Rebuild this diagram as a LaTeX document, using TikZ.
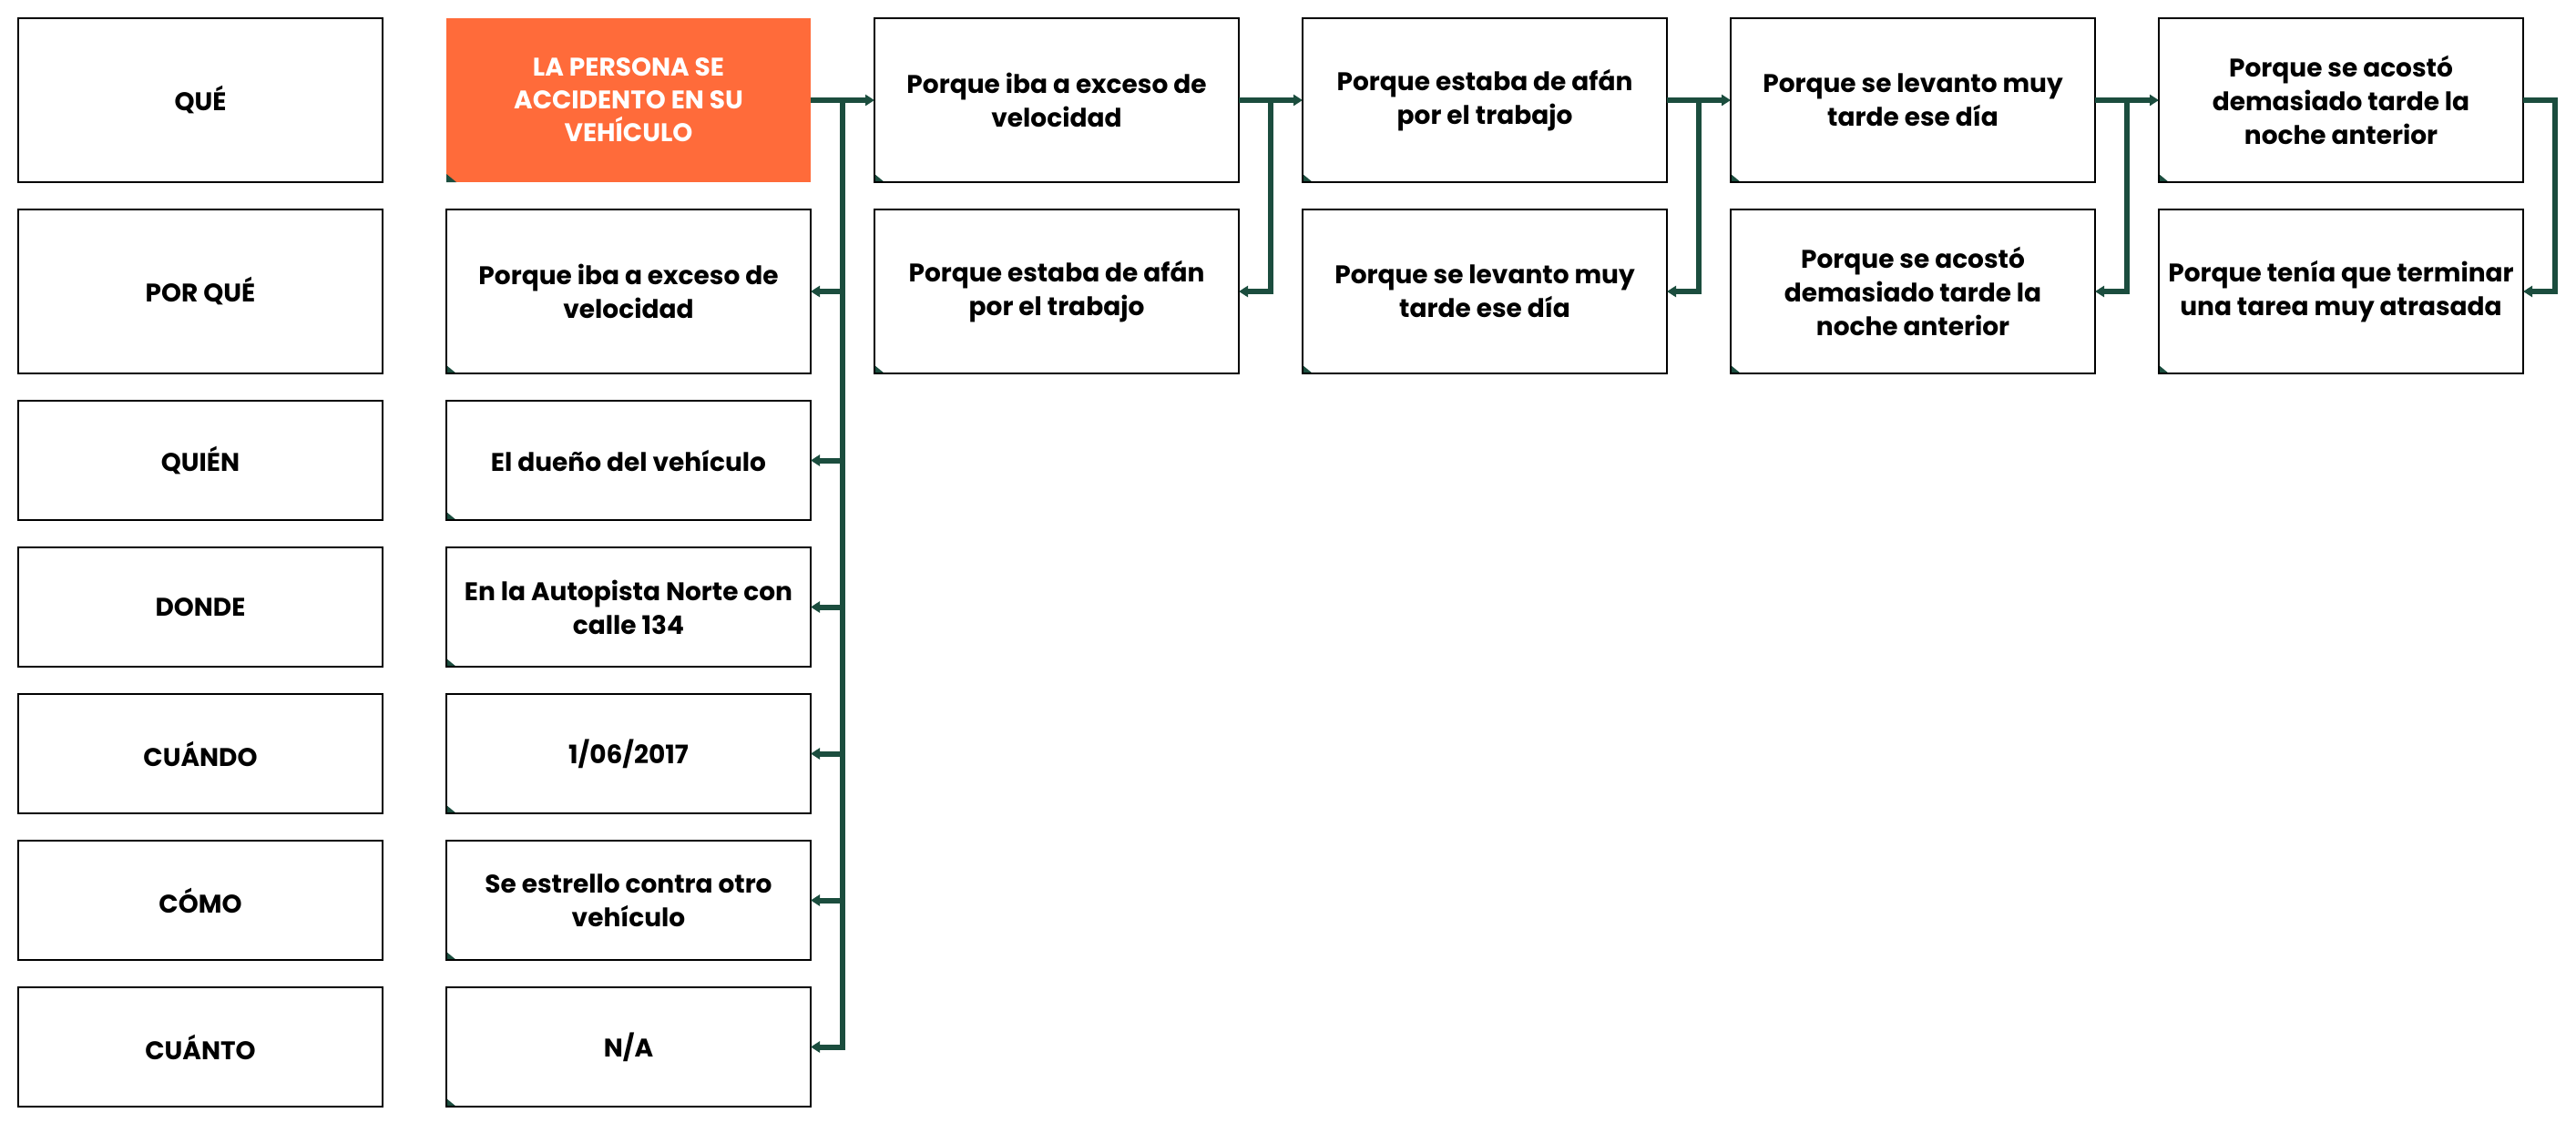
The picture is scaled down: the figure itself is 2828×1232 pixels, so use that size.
\documentclass[tikz,border=0pt]{standalone}
\usepackage{fontspec}
\setmainfont{Poppins}
\usetikzlibrary{arrows.meta,calc}
\definecolor{dgreen}{RGB}{27,77,62}
\definecolor{orng}{RGB}{255,107,58}
\tikzset{
  box/.style={draw=black, line width=1.5pt, minimum width=400pt, inner sep=0pt, outer sep=0pt,
    align=center, font=\fontsize{28}{37}\selectfont\bfseries, text=black},
  tallbox/.style={box, minimum height=180pt},
  shortbox/.style={box, minimum height=131pt},
  cornertab/.style={path picture={\fill[dgreen] (path picture bounding box.south west) -- ++(0pt,9pt) -- ++(11pt,-9pt) -- cycle;}},
  hotbox/.style={tallbox, cornertab, fill=orng, draw=none, text=white, font=\fontsize{28}{36}\selectfont\bfseries},
  conn/.style={draw=dgreen, line width=6pt, -{Triangle[length=10pt,width=12pt]}},
}
\begin{document}
\begin{tikzpicture}[x=1pt,y=-1pt]
\fill[white] (0,0) rectangle (2828,1232);
\useasboundingbox (0,0) rectangle (2828,1232);
% column A
\node[tallbox] (A1) at (220,110) {QUÉ};
\node[tallbox] (A2) at (220,320) {POR QUÉ};
\node[shortbox] (A3) at (220,505.5) {QUIÉN};
\node[shortbox] (A4) at (220,666.5) {DONDE};
\node[shortbox] (A5) at (220,827.5) {CUÁNDO};
\node[shortbox] (A6) at (220,988.5) {CÓMO};
\node[shortbox] (A7) at (220,1149.5) {CUÁNTO};
% column B
\node[hotbox] (B1) at (690,110) {LA PERSONA SE\\ACCIDENTO EN SU\\VEHÍCULO};
\node[tallbox,cornertab] (B2) at (690,320) {Porque iba a exceso de\\velocidad};
\node[shortbox,cornertab] (B3) at (690,505.5) {El dueño del vehículo};
\node[shortbox,cornertab] (B4) at (690,666.5) {En la Autopista Norte con\\calle 134};
\node[shortbox,cornertab] (B5) at (690,827.5) {1/06/2017};
\node[shortbox,cornertab] (B6) at (690,988.5) {Se estrello contra otro\\vehículo};
\node[shortbox,cornertab] (B7) at (690,1149.5) {N/A};
% columns C-F
\node[tallbox,cornertab] (C1) at (1160,110) {Porque iba a exceso de\\velocidad};
\node[tallbox,cornertab] (C2) at (1160,320) {Porque estaba de afán\\por el trabajo};
\node[tallbox,cornertab] (D1) at (1630,110) {Porque estaba de afán\\por el trabajo};
\node[tallbox,cornertab] (D2) at (1630,320) {Porque se levanto muy\\tarde ese día};
\node[tallbox,cornertab] (E1) at (2100,110) {Porque se levanto muy\\tarde ese día};
\node[tallbox,cornertab] (E2) at (2100,320) {Porque se acostó\\demasiado tarde la\\noche anterior};
\node[tallbox,cornertab] (F1) at (2570,110) {Porque se acostó\\demasiado tarde la\\noche anterior};
\node[tallbox,cornertab] (F2) at (2570,320) {Porque tenía que terminar\\una tarea muy atrasada};
% junction coordinates
\coordinate (t1) at ($(B1.east)!0.5!(C1.west)$);
\coordinate (t2) at ($(C1.east)!0.5!(D1.west)$);
\coordinate (t3) at ($(D1.east)!0.5!(E1.west)$);
\coordinate (t4) at ($(E1.east)!0.5!(F1.west)$);
\coordinate (t5) at ($(F1.east)+(35,0)$);
% connectors
\draw[conn] (B1.east) -- (C1.west);
\draw[conn] (t1) |- (B7.east);
\foreach \r in {2,...,6} {\draw[conn] (t1 |- B\r.east) -- (B\r.east);}
\draw[conn] (C1.east) -- (D1.west);
\draw[conn] (t2) |- (C2.east);
\draw[conn] (D1.east) -- (E1.west);
\draw[conn] (t3) |- (D2.east);
\draw[conn] (E1.east) -- (F1.west);
\draw[conn] (t4) |- (E2.east);
\draw[conn] (F1.east) -- (t5) |- (F2.east);
\end{tikzpicture}
\end{document}
